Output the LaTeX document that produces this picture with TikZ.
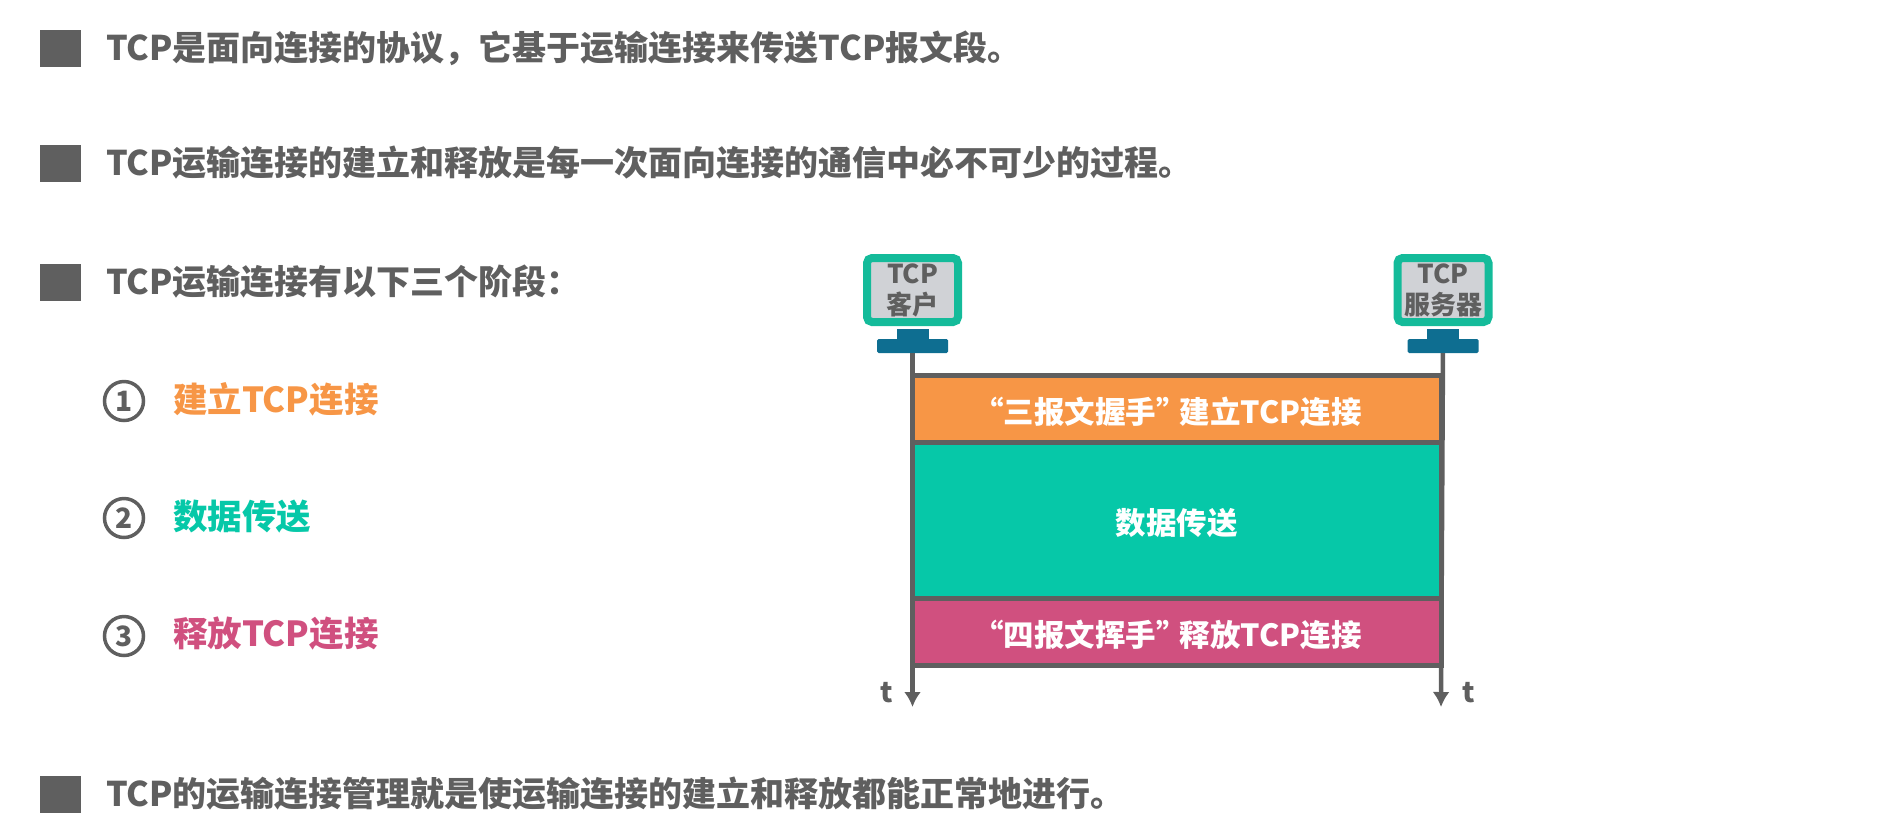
\documentclass[tikz,border=0pt]{standalone}
\usepackage{fontspec}
\setmainfont{Noto Sans CJK SC}
\usetikzlibrary{positioning,arrows.meta}
\definecolor{textgray}{HTML}{5F5F5F}
\definecolor{phaseorange}{HTML}{F79646}
\definecolor{phasegreen}{HTML}{06C8A8}
\definecolor{phasepink}{HTML}{D0507F}
\definecolor{screenteal}{HTML}{14BB9A}
\definecolor{screengray}{HTML}{D0D2D6}
\definecolor{standblue}{HTML}{0E6E91}
\begin{document}
\begin{tikzpicture}[x=1pt, y=-1pt,
  every node/.style = {outer sep=0pt, inner sep=0pt},
  heading/.style = {anchor=west, text=textgray, font=\fontsize{34}{40}\selectfont\bfseries},
  bullet/.style = {fill=textgray, minimum width=41pt, minimum height=37pt},
  stepnum/.style = {shape=circle, draw=textgray, line width=3.5pt, minimum size=39pt,
    text=textgray, font=\fontsize{28}{32}\selectfont\bfseries},
  steptext/.style = {anchor=west, font=\fontsize{34.5}{40}\selectfont\bfseries},
  monitor/.style = {rounded corners=5pt, draw=screenteal, fill=screengray, line width=8pt,
    minimum width=91pt, minimum height=64pt, align=center, text=textgray,
    font=\fontsize{26}{31}\selectfont\bfseries},
  neck/.style = {fill=standblue, minimum width=32pt, minimum height=10pt},
  base/.style = {fill=standblue, rounded corners=1.5pt, minimum width=71pt, minimum height=14pt},
  phase/.style = {draw=textgray, line width=5pt, minimum width=529pt, text=white,
    text height=30pt, text depth=1pt,
    font=\fontsize{30.5}{34}\selectfont\bfseries},
  lifeline/.style = {draw=textgray, line width=4.5pt, -{Latex[length=15pt,width=17pt]}},
  tlabel/.style = {text=textgray, font=\fontsize{28}{32}\selectfont\bfseries}
  ]
  \useasboundingbox (0,0) rectangle (1894,831);

  \node[bullet] (bulletA) at (60.5,48) {};
  \node[bullet] (bulletB) at (60.5,163) {};
  \node[bullet] (bulletC) at (60.5,282) {};
  \node[bullet] (bulletD) at (60.5,794) {};

  \node[heading] (headA) at (106,48) {TCP是面向连接的协议^^^^ff0c它基于运输连接来传送TCP报文段。};
  \node[heading] (headB) at (106,163) {TCP运输连接的建立和释放是每一次面向连接的通信中必不可少的过程。};
  \node[heading] (headC) at (106,282) {TCP运输连接有以下三个阶段^^^^ff1a};
  \node[heading] (headD) at (106,794) {TCP的运输连接管理就是使运输连接的建立和释放都能正常地进行。};

  \node[stepnum] (numA) at (124,401) {1};
  \node[stepnum] (numB) at (124,518) {2};
  \node[stepnum] (numC) at (124,636) {3};
  \node[steptext, text=phaseorange] (stepA) at (173,399) {建立TCP连接};
  \node[steptext, text=phasegreen] (stepB) at (173,517) {数据传送};
  \node[steptext, text=phasepink] (stepC) at (173,634) {释放TCP连接};

  \node[monitor] (client) at (912.5,290) {TCP\\客户};
  \node[neck, below=7pt of client] (clientneck) {};
  \node[base, below=0pt of clientneck] (clientbase) {};
  \node[monitor] (server) at (1443,290) {TCP\\服务器};
  \node[neck, below=7pt of server] (serverneck) {};
  \node[base, below=0pt of serverneck] (serverbase) {};

  \coordinate (clientend) at (912.5,707);
  \coordinate (serverend) at (1441,707);
  \draw[lifeline] (clientbase) -- (clientend);
  \draw[lifeline] (serverbase) -- (serverend);

  \node[phase, fill=phaseorange, minimum height=66.5pt] (connect) at (1176.5,409) {“三报文握手”\kern-7pt 建立TCP连接\kern18pt};
  \node[phase, fill=phasegreen, minimum height=156pt, below=0pt of connect] (transfer) {数据传送};
  \node[phase, fill=phasepink, minimum height=67pt, below=0pt of transfer] (release) {“四报文挥手”\kern-7pt 释放TCP连接\kern18pt};

  \node[tlabel] (tclient) at (887,693) {t};
  \node[tlabel] (tserver) at (1469,693) {t};
\end{tikzpicture}
\end{document}
